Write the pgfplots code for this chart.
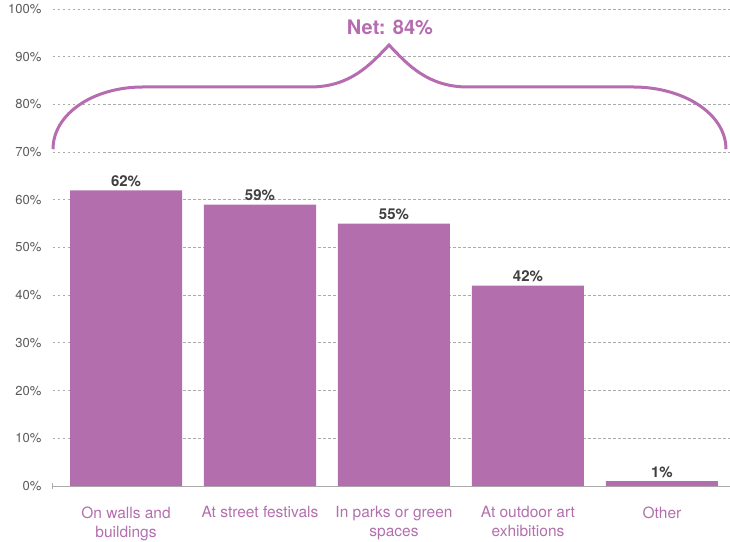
\documentclass[border=0pt]{standalone}
\usepackage{fontspec}
\setmainfont{TeX Gyre Heros}
\usepackage{pgfplots}
\pgfplotsset{compat=1.18}
\definecolor{barc}{HTML}{B36FAD}
\definecolor{bracec}{HTML}{B56CB0}
\definecolor{labc}{HTML}{404040}
\definecolor{tickc}{HTML}{595959}
\definecolor{gridc}{HTML}{ABABAB}
\begin{document}
\begin{tikzpicture}
\useasboundingbox (-53pt,-55pt) rectangle (677pt,486pt);
\begin{axis}[
  at={(0,0)}, anchor=south west,
  scale only axis, width=677pt, height=477pt,
  xmin=-0.545, xmax=4.508, ymin=0, ymax=100,
  clip=false,
  axis x line=bottom, axis y line=left,
  x axis line style={-, draw=gridc, line width=1pt},
  y axis line style={draw=none},
  xtick={0,1,2,3,4},
  xticklabels={{On walls and\\buildings},{At street festivals},{In parks or green\\spaces},{At outdoor art\\exhibitions},{Other}},
  xticklabel style={align=center, font=\fontsize{15.5}{19}\selectfont, text=barc, yshift=-17pt},
  ytick={0,10,...,100},
  yticklabel={\pgfmathprintnumber{\tick}\%},
  yticklabel style={font=\fontsize{13}{15}\selectfont, text=tickc, xshift=-8pt},
  /pgf/number format/assume math mode=true,
  major tick length=0pt,
  ymajorgrids,
  grid style={draw=gridc, line width=0.9pt, dash pattern=on 2.5pt off 2.5pt},
  ybar, bar width=0.836,
  nodes near coords={\pgfmathprintnumber{\pgfplotspointmeta}\%},
  nodes near coords style={font=\bfseries\fontsize{15}{17}\selectfont, text=labc, yshift=0pt},
]
\addplot[fill=barc, draw=none] coordinates {(0,62) (1,59) (2,55) (3,42) (4,1)};
\draw[bracec, line width=3pt, line cap=butt]
  (axis cs:-0.545,70.6) .. controls (axis cs:-0.545,78.0) and (axis cs:-0.246,83.65) .. (axis cs:0.127,83.65)
  -- (axis cs:1.373,83.65)
  .. controls (axis cs:1.672,83.65) and (axis cs:1.821,88.26) .. (axis cs:1.963,92.45)
  .. controls (axis cs:2.104,88.26) and (axis cs:2.254,83.65) .. (axis cs:2.552,83.65)
  -- (axis cs:3.784,83.65)
  .. controls (axis cs:4.164,83.65) and (axis cs:4.478,78.0) .. (axis cs:4.478,70.6);
\node[text=bracec, font=\bfseries\fontsize{20}{22}\selectfont] at (axis cs:1.97,96.2) {Net: 84\%};
\draw[gridc, line width=1pt] ([yshift=-3pt]axis cs:-0.545,0) -- ([yshift=3pt]axis cs:-0.545,0);
\end{axis}
\end{tikzpicture}
\end{document}
